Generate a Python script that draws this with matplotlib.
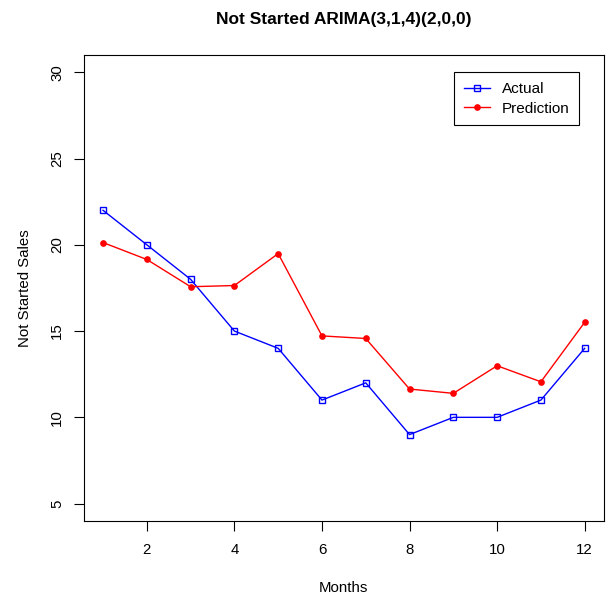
import numpy as np
import matplotlib
matplotlib.use("Agg")
import matplotlib.pyplot as plt

plt.rcParams['font.family'] = ['Liberation Sans', 'DejaVu Sans']

# data
months = [1, 2, 3, 4, 5, 6, 7, 8, 9, 10, 11, 12]
actual = [22, 20, 18, 15, 14, 11, 12, 9, 10, 10, 11, 14]
prediction = [20.13, 19.15, 17.57, 17.64, 19.49, 14.72, 14.57, 11.64, 11.39, 12.99, 12.06, 15.51]

fig = plt.figure(figsize=(6.07, 5.98), dpi=100)
ax = fig.add_axes([0.138, 0.129, 0.857, 0.779])

ax.plot(months, actual, color='blue', linewidth=1, marker='s', markersize=5,
        markerfacecolor='none', markeredgecolor='blue', markeredgewidth=1, label='Actual')
ax.plot(months, prediction, color='red', linewidth=1, marker='o', markersize=3.8,
        markerfacecolor='red', markeredgecolor='red', label='Prediction')

# R style limits (4% padding)
ax.set_xlim(1 - 0.04 * 11, 12 + 0.04 * 11)
ax.set_ylim(5 - 0.04 * 25, 30 + 0.04 * 25)
ax.set_xticks([2, 4, 6, 8, 10, 12])
ax.set_yticks([5, 10, 15, 20, 25, 30])
ax.set_yticklabels(['5', '10', '15', '20', '25', '30'], rotation=90, va='center')
ax.tick_params(direction='out', length=7, width=0.8, labelsize=10.8)
ax.tick_params(axis='x', pad=9)
ax.tick_params(axis='y', pad=7)
for s in ax.spines.values():
    s.set_linewidth(0.8)

ax.set_title('Not Started ARIMA(3,1,4)(2,0,0)', fontsize=12.5, fontweight='bold', pad=22.5)
ax.set_xlabel('Months', fontsize=10.8, labelpad=17)
ax.set_ylabel('Not Started Sales', fontsize=10.8, labelpad=13)

leg = ax.legend(loc='upper left', bbox_to_anchor=(0.711, 0.963), fontsize=11,
                fancybox=False, framealpha=1, edgecolor='black', borderpad=0.65,
                handlelength=1.7, handletextpad=0.8, labelspacing=0.35, borderaxespad=0)
leg.get_frame().set_linewidth(0.8)

fig.savefig('out.png', dpi=100)
